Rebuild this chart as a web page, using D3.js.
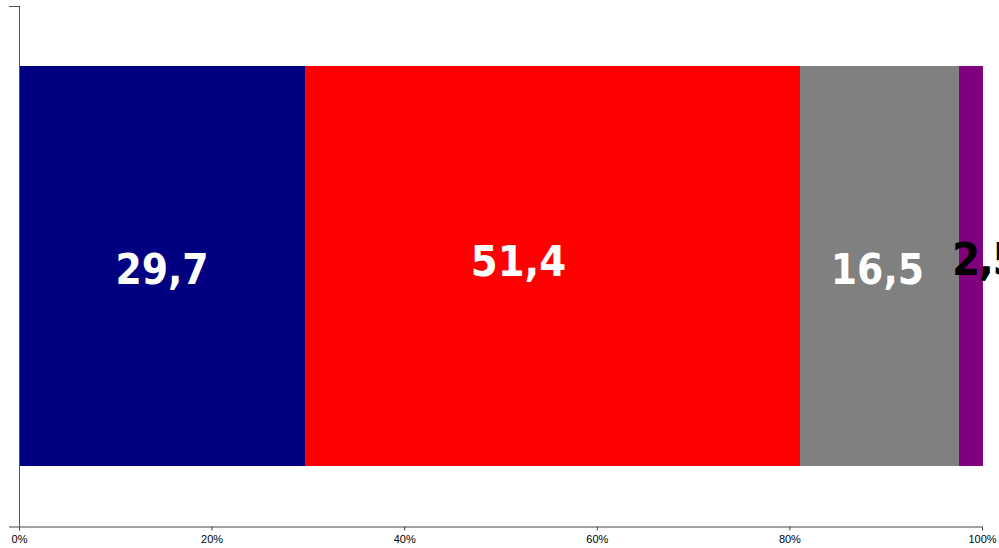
<!DOCTYPE html>
<html>
<head>
<meta charset="utf-8">
<script src="https://cdn.jsdelivr.net/npm/d3@7"></script>
<style>
  html, body { margin: 0; padding: 0; background: #fff; }
  svg { display: block; }
</style>
</head>
<body>
<svg id="chart" width="999" height="548"></svg>
<script>
// ---- data ----
const categories = ["A", "B", "C", "D"];
const values = [29.7, 51.4, 16.5, 2.5];
const labels = ["29,7", "51,4", "16,5", "2,5"];
const colors = ["#000080", "#FF0000", "#808080", "#800080"];
const labelColors = ["#ffffff", "#ffffff", "#ffffff", "#000000"];
const tickValues = [0, 20, 40, 60, 80, 100];
const tickLabels = ["0%", "20%", "40%", "60%", "80%", "100%"];

// label placement tweaks (style, not data): x offset from segment centre, y baseline, size
const labelDx = [0, -34, -2, 0];
const labelY = [284, 276, 284, 275];
const labelSize = [42, 43, 42, 45];
const labelSpacing = [0, 0, 0, -1.5];
const labelAnchor = ["middle", "middle", "middle", "start"];

const svg = d3.select("#chart");
const x = d3.scaleLinear().domain([0, 100]).range([19, 982]);

// stacked segments
let acc = 0;
const segs = values.map((v, i) => {
  const s = { i, x0: acc, x1: acc + v, v };
  acc += v;
  return s;
});

svg.append("g").selectAll("rect").data(segs).join("rect")
  .attr("x", d => x(d.x0))
  .attr("width", d => x(d.x1) - x(d.x0))
  .attr("y", 66)
  .attr("height", 400)
  .attr("fill", d => colors[d.i]);

// labels
svg.append("g").selectAll("text").data(segs).join("text")
  .attr("x", d => labelAnchor[d.i] === "start" ? x(d.x0) - 7 : (x(d.x0) + x(d.x1)) / 2 + labelDx[d.i])
  .attr("y", d => labelY[d.i])
  .attr("text-anchor", d => labelAnchor[d.i])
  .attr("font-family", "'DejaVu Sans Condensed', 'DejaVu Sans', sans-serif")
  .attr("font-weight", "bold")
  .attr("font-size", d => labelSize[d.i])
  .attr("letter-spacing", d => labelSpacing[d.i])
  .attr("fill", d => labelColors[d.i])
  .text(d => labels[d.i]);

// x axis
const xAxis = d3.axisBottom(x)
  .tickValues(tickValues)
  .tickFormat((d, i) => tickLabels[i])
  .tickSize(4)
  .tickSizeOuter(0);
const gx = svg.append("g").attr("transform", "translate(0,526.5)").call(xAxis);
gx.select(".domain").attr("stroke", "#444").attr("d", "M9,0.5H982");
gx.selectAll(".tick line").attr("stroke", "#444");
gx.selectAll(".tick text")
  .attr("font-family", "'Liberation Sans', Arial, sans-serif")
  .attr("font-size", 11)
  .attr("fill", "#000")
  .attr("dy", "0.9em");

// y axis line
svg.append("line").attr("x1", 19.5).attr("x2", 19.5).attr("y1", 6).attr("y2", 527)
  .attr("stroke", "#555");
svg.append("line").attr("x1", 9).attr("x2", 20).attr("y1", 6.5).attr("y2", 6.5)
  .attr("stroke", "#555");
</script>
</body>
</html>
